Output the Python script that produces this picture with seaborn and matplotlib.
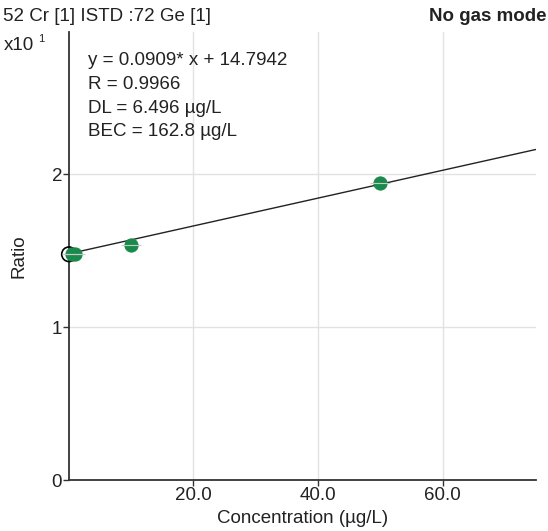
import matplotlib
matplotlib.use("Agg")
import matplotlib.pyplot as plt
import numpy as np
import pandas as pd
import seaborn as sns

# calibration standards (concentration in ug/L, ratio in units of x10^1)
conc = [0.5, 1.0, 10.0, 50.0]
ratio = [1.478, 1.480, 1.535, 1.940]
blank_conc = [0.0]
blank_ratio = [1.476]

slope = 0.0909
intercept = 14.7942
scale = 10.0
x_ticks = [20, 40, 60]
x_tick_labels = ["20.0", "40.0", "60.0"]
y_ticks = [0, 1, 2]
info_lines = [
    "y = 0.0909* x + 14.7942",
    "R = 0.9966",
    "DL = 6.496 µg/L",
    "BEC = 162.8 µg/L",
]

FS = 13.5

sns.set_theme(style="white")
plt.rcParams["font.family"] = ["Liberation Sans", "DejaVu Sans"]

fig = plt.figure(figsize=(5.48, 5.31), dpi=100)
ax = fig.add_axes([0.1259, 0.096, 0.852, 0.844])

df = pd.DataFrame({"conc": conc, "ratio": ratio})

ax.grid(True, color="#e2e2e2", linewidth=1)
ax.set_axisbelow(True)

xfit = np.array([0.0, 75.0])
yfit = (slope * xfit + intercept) / scale
ax.plot(xfit, yfit, color="#222222", linewidth=1.0, zorder=2)

ax.scatter(blank_conc, blank_ratio, s=110, facecolor="none",
           edgecolor="black", linewidth=1.2, zorder=3, clip_on=False)
sns.scatterplot(data=df, x="conc", y="ratio", ax=ax, s=90, color="#1a8a4c",
                edgecolor="#1a8a4c", zorder=4, clip_on=False, legend=False)
ax.scatter(conc, ratio, marker="_", s=200, color="#c8c8c8",
           linewidth=0.8, zorder=5, clip_on=False)

ax.set_xlim(0, 75)
ax.set_ylim(0, 2.93)
ax.set_xticks(x_ticks)
ax.set_xticklabels(x_tick_labels)
ax.set_yticks(y_ticks)

for side in ["top", "right"]:
    ax.spines[side].set_visible(False)
for side in ["left", "bottom"]:
    ax.spines[side].set_color("#333333")
    ax.spines[side].set_linewidth(1.3)

ax.tick_params(axis="both", which="both", bottom=True, left=True,
               length=4, width=1, color="#333333", labelsize=FS,
               labelcolor="#222222", pad=1)
ax.set_xlabel("Concentration (µg/L)", fontsize=FS, color="#222222", labelpad=4)
ax.set_ylabel("Ratio", fontsize=FS, color="#222222", labelpad=17)

for i, line in enumerate(info_lines):
    ax.text(0.04, 0.955 - i * 0.053, line, transform=ax.transAxes,
            fontsize=FS, color="#222222", va="top", ha="left")

fig.text(0.006, 0.968, "52 Cr [1] ISTD :72 Ge [1]", fontsize=FS,
         color="#222222", va="center", ha="left")
fig.text(0.006, 0.915, "x10", fontsize=FS, color="#222222",
         va="center", ha="left")
fig.text(0.069, 0.927, "1", fontsize=8, color="#222222",
         va="center", ha="left")
fig.text(0.998, 0.968, "No gas mode", fontsize=FS, fontweight="bold",
         color="#222222", va="center", ha="right")

fig.savefig("out.png", dpi=100)
